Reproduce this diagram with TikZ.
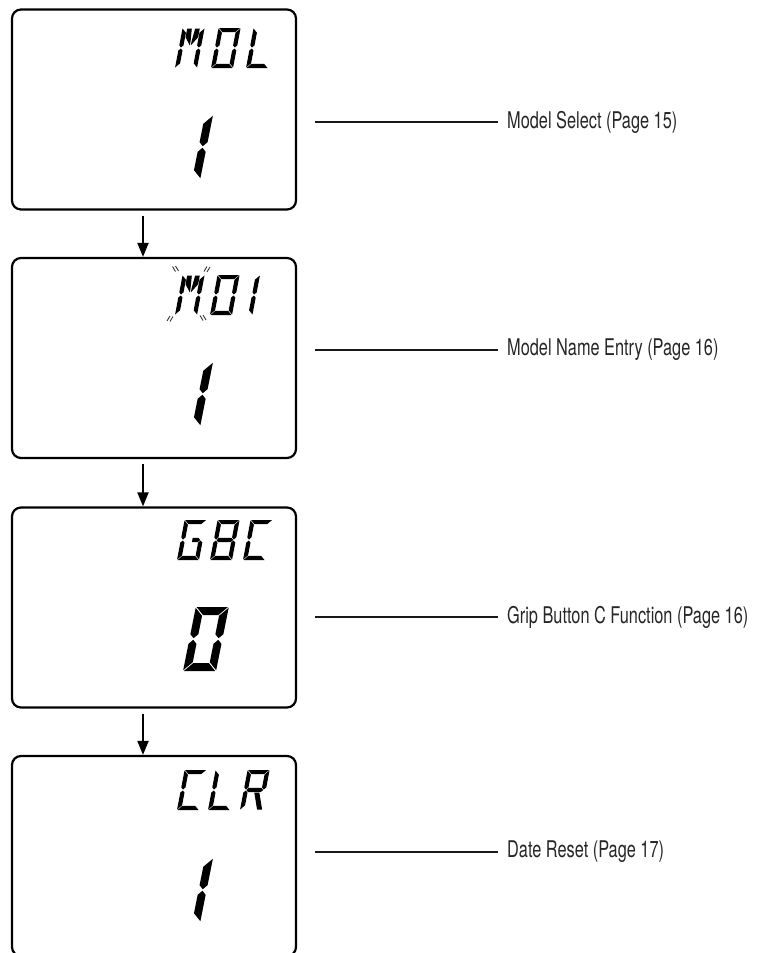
\documentclass[tikz,border=0pt]{standalone}
\usepackage{fontspec}
\newfontfamily\lblfont[FakeStretch=0.71]{TeX Gyre Heros}
\usetikzlibrary{arrows.meta}
% segment geometry: width, height, thickness, gap
\newcommand\segsize[4]{\def\sgW{#1}\def\sgH{#2}\def\sgT{#3}\def\sgG{#4}\pgfmathsetmacro\sgM{#2/2}}
\newcommand\sgA{\fill (\sgG,0) -- ({\sgW-\sgG},0) -- ({\sgW-\sgT-\sgG},\sgT) -- ({\sgT+\sgG},\sgT) -- cycle;}
\newcommand\sgD{\fill (\sgG,\sgH) -- ({\sgW-\sgG},\sgH) -- ({\sgW-\sgT-\sgG},{\sgH-\sgT}) -- ({\sgT+\sgG},{\sgH-\sgT}) -- cycle;}
\newcommand\sgF{\fill (0,\sgG) -- (\sgT,{\sgT+\sgG}) -- (\sgT,{\sgM-\sgT/2-\sgG}) -- ({\sgT/2},{\sgM-\sgG}) -- (0,{\sgM-\sgT/2-\sgG}) -- cycle;}
\newcommand\sgE{\fill (0,{\sgH-\sgG}) -- (\sgT,{\sgH-\sgT-\sgG}) -- (\sgT,{\sgM+\sgT/2+\sgG}) -- ({\sgT/2},{\sgM+\sgG}) -- (0,{\sgM+\sgT/2+\sgG}) -- cycle;}
\newcommand\sgB{\fill (\sgW,\sgG) -- ({\sgW-\sgT},{\sgT+\sgG}) -- ({\sgW-\sgT},{\sgM-\sgT/2-\sgG}) -- ({\sgW-\sgT/2},{\sgM-\sgG}) -- (\sgW,{\sgM-\sgT/2-\sgG}) -- cycle;}
\newcommand\sgC{\fill (\sgW,{\sgH-\sgG}) -- ({\sgW-\sgT},{\sgH-\sgT-\sgG}) -- ({\sgW-\sgT},{\sgM+\sgT/2+\sgG}) -- ({\sgW-\sgT/2},{\sgM+\sgG}) -- (\sgW,{\sgM+\sgT/2+\sgG}) -- cycle;}
\newcommand\sgMid{\fill ({\sgT/2+\sgG},\sgM) -- ({\sgT+\sgG},{\sgM-\sgT/2}) -- ({\sgW-\sgT-\sgG},{\sgM-\sgT/2}) -- ({\sgW-\sgT/2-\sgG},\sgM) -- ({\sgW-\sgT-\sgG},{\sgM+\sgT/2}) -- ({\sgT+\sgG},{\sgM+\sgT/2}) -- cycle;}
\newcommand\sgMidR{\fill ({\sgW/2+\sgG},{\sgM-\sgT/2}) -- ({\sgW-\sgT-\sgG},{\sgM-\sgT/2}) -- ({\sgW-\sgT/2-\sgG},\sgM) -- ({\sgW-\sgT-\sgG},{\sgM+\sgT/2}) -- ({\sgW/2+\sgG},{\sgM+\sgT/2}) -- cycle;}
\newcommand\sgDL{\fill ({\sgT+\sgG},\sgG) -- ({2.1*\sgT+\sgG},\sgG) -- ({\sgW/2-\sgG},{\sgM-1.6*\sgT}) -- ({\sgW/2-\sgG},{\sgM-\sgT/2-\sgG}) -- ({\sgT+\sgG},{2.2*\sgT}) -- cycle;}
\newcommand\sgDR{\fill ({\sgW-\sgT-\sgG},\sgG) -- ({\sgW-2.1*\sgT-\sgG},\sgG) -- ({\sgW/2+\sgG},{\sgM-1.6*\sgT}) -- ({\sgW/2+\sgG},{\sgM-\sgT/2-\sgG}) -- ({\sgW-\sgT-\sgG},{2.2*\sgT}) -- cycle;}
\newcommand\sgLeg{\fill ({\sgW/2},{\sgM+\sgT/2+\sgG}) -- ({\sgW/2+1.2*\sgT},{\sgM+\sgT/2+\sgG}) -- (\sgW,{\sgH-\sgG}) -- ({\sgW-1.2*\sgT},{\sgH-\sgG}) -- cycle;}
\newcommand\lcdglyph[3]{\begin{scope}[shift={#1},xslant=#2]#3\end{scope}}
\newcommand\smallseg{\segsize{22}{40}{4.2}{0.5}}
\newcommand\bigseg{\segsize{33}{64}{8}{0.8}}
\begin{document}
\begin{tikzpicture}[x=1pt,y=-1pt,
  lcdbox/.style={draw=black, line width=2.2pt, rounded corners=9pt, minimum width=284pt, minimum height=200pt, inner sep=0pt},
  lbl/.style={anchor=west, inner xsep=9pt, inner ysep=0pt, font=\lblfont\fontsize{23}{27}\selectfont, text=black!85},
  conn/.style={line width=2pt, draw=black!90},
  flowarr/.style={line width=2pt, draw=black, -{Triangle[length=14pt,width=11pt]}, shorten <=5pt},
  blink/.style={line width=0.9pt, draw=black!80}]
\useasboundingbox (0,0) rectangle (758,953);

% LCD boxes
\node[lcdbox] (b1) at (154,109.5) {};
\node[lcdbox] (b2) at (154,358) {};
\node[lcdbox] (b3) at (154,607.5) {};
\node[lcdbox] (b4) at (154,856) {};

% arrows
\coordinate (ax) at (143,0);
\draw[flowarr] (b1.south -| ax) -- (b2.north -| ax);
\draw[flowarr] (b2.south -| ax) -- (b3.north -| ax);
\draw[flowarr] (b3.south -| ax) -- (b4.north -| ax);

% labels and connectors
\node[lbl] (l1) at (498,122) {Model Select (Page 15)};
\node[lbl] (l2) at (498,350) {Model Name Entry (Page 16)};
\node[lbl] (l3) at (498,617) {Grip Button C Function (Page 16)};
\node[lbl] (l4) at (498,852) {Date Reset (Page 17)};
\coordinate (c1) at (315,122);
\coordinate (c2) at (315,350);
\coordinate (c3) at (315,617);
\coordinate (c4) at (315,852);
\draw[conn] (c1) -- (l1.west);
\draw[conn] (c2) -- (l2.west);
\draw[conn] (c3) -- (l3.west);
\draw[conn] (c4) -- (l4.west);

% ---- box 1: MDL / 1
\smallseg
\lcdglyph{(182.6,28)}{0.19}{\sgF\sgE\sgB\sgC\sgDL\sgDR}
\lcdglyph{(218.6,28)}{0.19}{\sgA\sgB\sgC\sgD\sgE\sgF}
\lcdglyph{(253.6,28)}{0.19}{\sgF\sgE\sgD}
\bigseg
\lcdglyph{(180,115)}{0.2}{\sgB\sgC}

% ---- box 2: MD1 (M blinking) / 1
\smallseg
\lcdglyph{(182.6,275)}{0.19}{\sgF\sgE\sgB\sgC\sgDL\sgDR}
\lcdglyph{(217.6,275)}{0.19}{\sgA\sgB\sgC\sgD\sgE\sgF}
\lcdglyph{(238,275)}{0.19}{\sgB\sgC}
\bigseg
\lcdglyph{(180,362)}{0.2}{\sgB\sgC}
% blink marks
\draw[blink] (172.5,266.5) -- (175.5,271.5) (175.5,266) -- (178.5,271);
\draw[blink] (204,271.5) -- (207,266.5) (207,272) -- (210,267);
\draw[blink] (167,321) -- (170,316) (170,321.5) -- (173,316.5);
\draw[blink] (200,315.5) -- (203,320.5) (203,315) -- (206,320);

% ---- box 3: GBC / 0
\smallseg
\lcdglyph{(184.6,520)}{0.19}{\sgA\sgF\sgE\sgD\sgC\sgMidR}
\lcdglyph{(217.6,520)}{0.19}{\sgA\sgB\sgC\sgD\sgE\sgF\sgMid}
\lcdglyph{(250.6,520)}{0.19}{\sgA\sgF\sgE\sgD}
\bigseg
\lcdglyph{(195.8,607)}{0.2}{\sgA\sgB\sgC\sgD\sgE\sgF}

% ---- box 4: CLR / 1
\smallseg
\lcdglyph{(184.6,770)}{0.19}{\sgA\sgF\sgE\sgD}
\lcdglyph{(215.6,770)}{0.19}{\sgF\sgE\sgD}
\lcdglyph{(247.6,770)}{0.19}{\sgA\sgB\sgF\sgE\sgMid\sgLeg}
\bigseg
\lcdglyph{(180,858)}{0.2}{\sgB\sgC}
\end{tikzpicture}
\end{document}
